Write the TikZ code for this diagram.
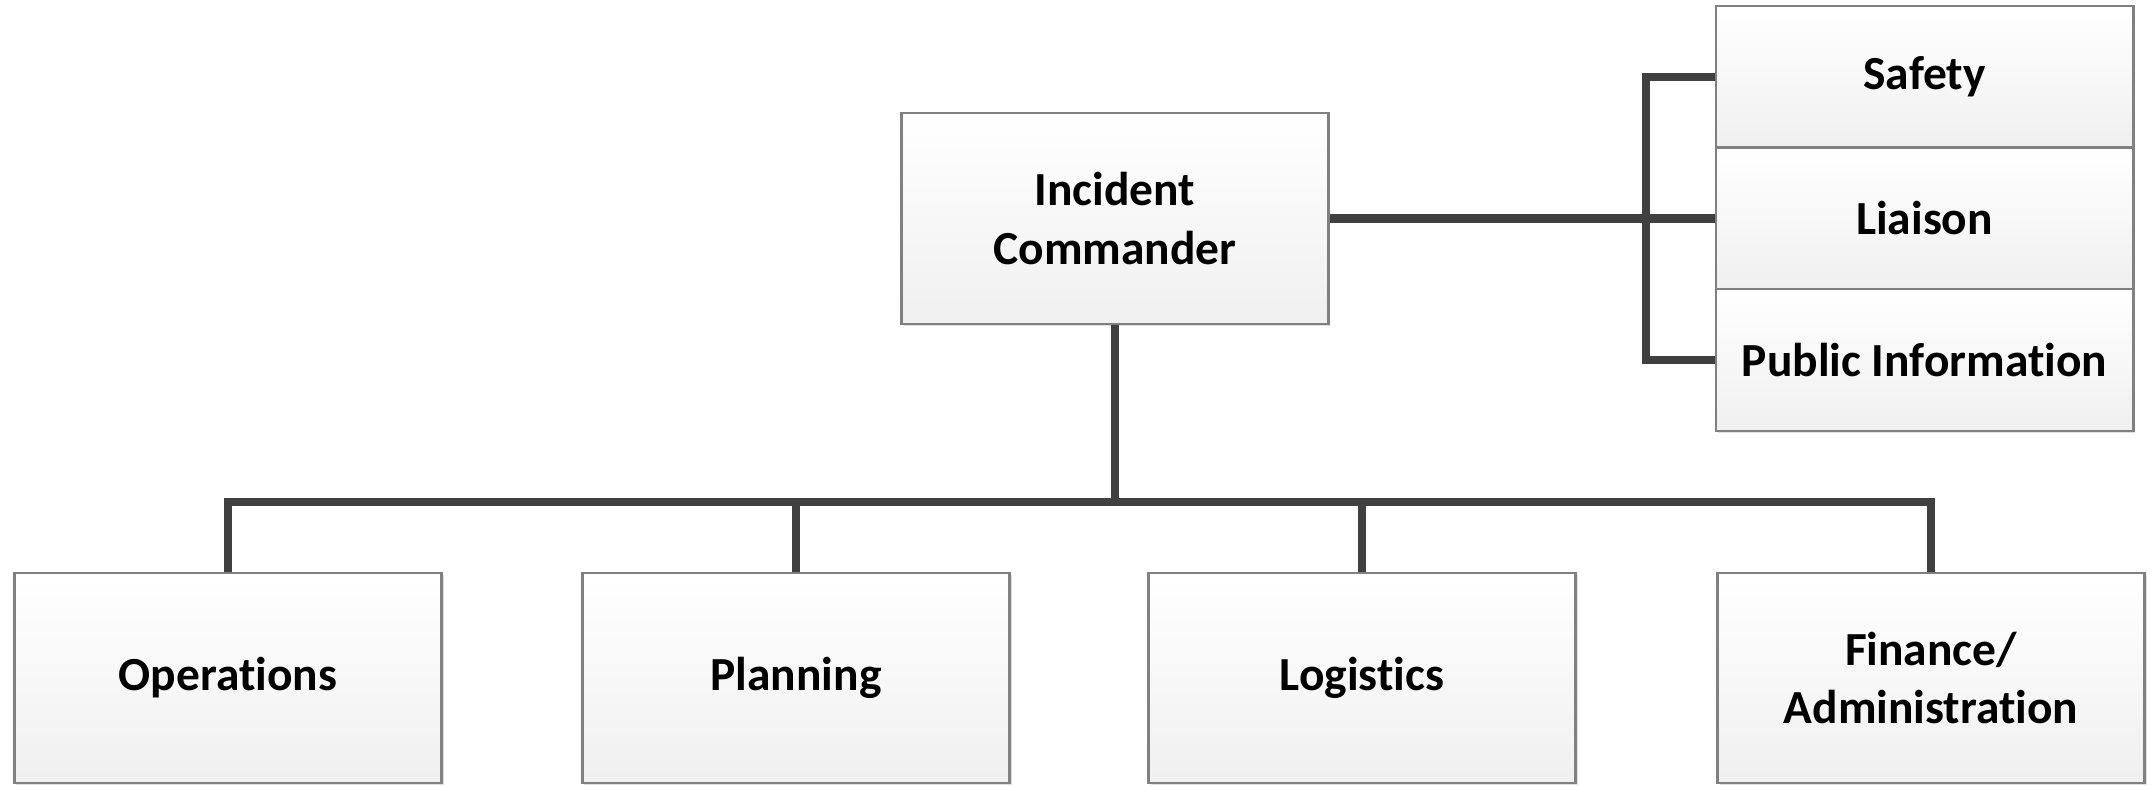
\documentclass[tikz,border=0pt]{standalone}
\usepackage{fontspec}
\setmainfont[Ligatures=NoCommon]{Carlito}
\usetikzlibrary{shadows}

\begin{document}
\begin{tikzpicture}[x=0.01cm, y=-0.01cm,
    unit/.style={rectangle, draw=black!50, line width=0.8pt, top color=white, bottom color=black!6,
        drop shadow={shadow xshift=0.6pt, shadow yshift=-0.6pt, fill=black!25, opacity=0.5},
        align=center, font=\fontsize{13.5}{16.7}\selectfont\bfseries, inner sep=0pt},
    conn/.style={draw=black!75, line width=2.3pt, line join=miter}]
    \useasboundingbox (0,0) rectangle (2152,786);

    % Commander
    \node[unit, minimum width=4.26cm, minimum height=2.11cm] (ic) at (1115,218.5) {Incident\\Commander};

    % Command staff
    \node[unit, minimum width=4.17cm, minimum height=1.42cm] (safety) at (1924.5,77) {Safety};
    \node[unit, minimum width=4.17cm, minimum height=1.42cm] (liaison) at (1924.5,218.5) {Liaison};
    \node[unit, minimum width=4.17cm, minimum height=1.42cm] (pubinfo) at (1924.5,360) {Public Information};

    % General staff
    \node[unit, minimum width=4.27cm, minimum height=2.10cm] (ops) at (228,678) {Operations};
    \node[unit, minimum width=4.27cm, minimum height=2.10cm] (plan) at (796,678) {Planning};
    \node[unit, minimum width=4.27cm, minimum height=2.10cm] (logs) at (1362,678) {Logistics};
    \node[unit, minimum width=4.27cm, minimum height=2.10cm] (fin) at (1931,678) {Finance/\\Administration};

    % Connectors
    \coordinate (sidebar) at (1646,218.5);
    \coordinate (bus) at (1115,502);
    \draw[conn] (ic.east) -- (liaison.west);
    \draw[conn] (safety.west) -| (sidebar) |- (pubinfo.west);
    \draw[conn] (ic.south) -- (bus);
    \draw[conn] (ops.north) |- (bus) -| (fin.north);
    \draw[conn] (plan.north) -- (plan.north |- bus);
    \draw[conn] (logs.north) -- (logs.north |- bus);
\end{tikzpicture}
\end{document}
